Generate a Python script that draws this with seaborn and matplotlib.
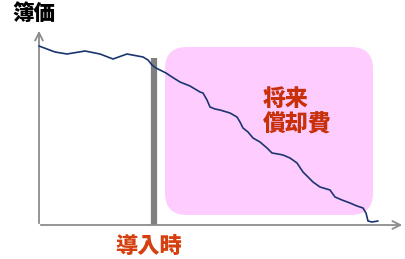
import matplotlib.pyplot as plt
import pandas as pd
import seaborn as sns
from matplotlib.patches import FancyBboxPatch

# book value curve (pixel space, y grows downward)
curve_x = [39, 47, 55, 67, 85, 100, 113, 127, 143, 148, 152, 156, 160, 166, 172, 180,
           190, 200, 203, 207, 210, 215, 220, 230, 237, 240, 243, 248, 253, 260, 267,
           272, 278, 283, 290, 297, 303, 308, 313, 320, 330, 335, 342, 350, 357, 363,
           366, 368, 372, 378]
curve_y = [46, 49, 52, 54, 51, 54, 59, 54, 57, 60, 65, 68, 70, 73, 77, 82,
           86, 92, 93, 100, 107, 109, 110, 113, 117, 122, 128, 132, 138, 142, 148,
           153, 154, 155, 158, 163, 172, 177, 182, 187, 190, 197, 200, 203, 206, 208,
           213, 221, 222, 221]

y_label = "簿価"
x_label = "導入時"
box_label = "将来\n償却費"

sns.set_style("white")
plt.rcParams['font.family'] = ['Noto Sans CJK JP', 'DejaVu Sans']

fig = plt.figure(figsize=(4.06, 2.59), dpi=100)
ax = fig.add_axes([0, 0, 1, 1])

# future amortisation box
ax.add_patch(FancyBboxPatch((165, 47), 208, 168, boxstyle="round,pad=0,rounding_size=22",
                            facecolor="#FFCCFF", edgecolor="none", zorder=1))

# axes with open arrow heads
ax.annotate("", xy=(39, 28), xytext=(39, 226),
            arrowprops=dict(arrowstyle="->", color="#8C8C8C", lw=1.3, mutation_scale=14))
ax.annotate("", xy=(405, 225), xytext=(38, 225),
            arrowprops=dict(arrowstyle="->", color="#8C8C8C", lw=1.3, mutation_scale=14))

# introduction marker
ax.plot([154, 154], [58, 225], color="#808080", lw=4.5, solid_capstyle="butt", zorder=2)

df = pd.DataFrame({"x": curve_x, "y": curve_y})
sns.lineplot(data=df, x="x", y="y", ax=ax, color="#1A3570", lw=1.2, sort=False, zorder=3)
ax.set_xlim(0, 406)
ax.set_ylim(259, 0)
ax.axis("off")

ax.text(34, 14, y_label, ha="center", va="center", fontsize=15.5, fontweight="black", color="black")
ax.text(149, 246, x_label, ha="center", va="center", fontsize=16, fontweight="black", color="#D4400F")
ax.text(263, 112, box_label, ha="left", va="center", fontsize=16.5, fontweight="black",
        color="#C8300A", linespacing=1.15)

fig.savefig("out.png", dpi=100)
